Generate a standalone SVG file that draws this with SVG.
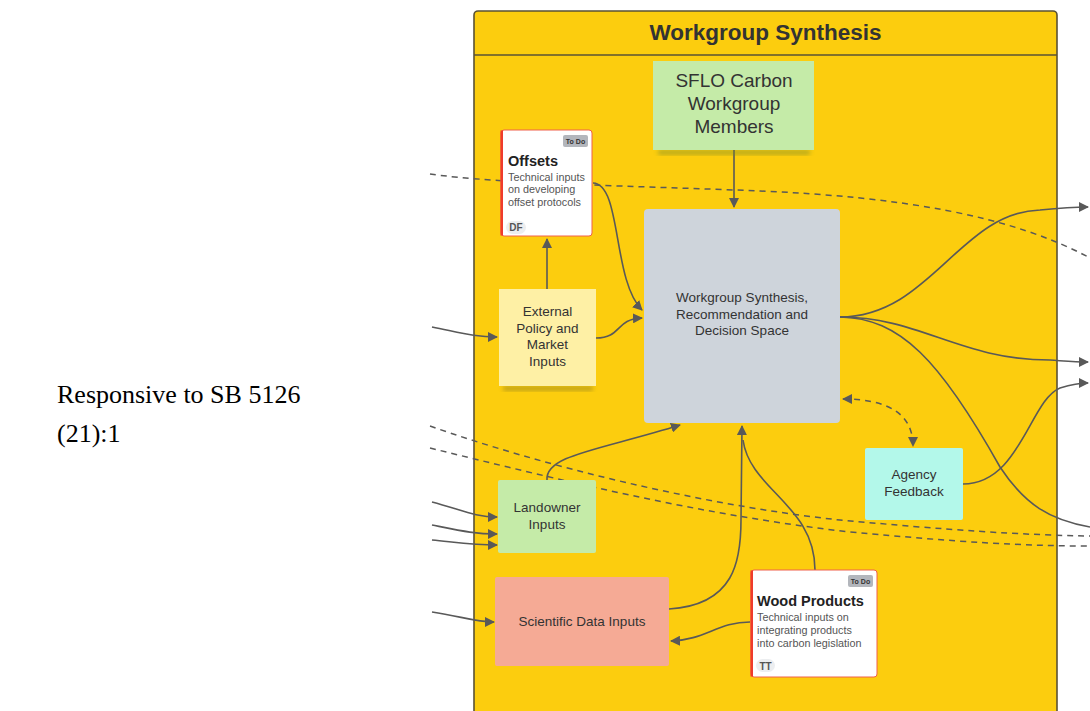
<svg xmlns="http://www.w3.org/2000/svg" width="1090" height="711" viewBox="0 0 1090 711">
<defs>
<marker id="ah" viewBox="0 0 10 10" refX="9" refY="5" markerWidth="10" markerHeight="10" markerUnits="userSpaceOnUse" orient="auto-start-reverse"><path d="M0,0 L10,5 L0,10 z" fill="#595959"/></marker>
<filter id="sh" x="-10%" y="-10%" width="120%" height="130%"><feGaussianBlur stdDeviation="2"/></filter>
</defs>
<style>
.t{font-family:"Liberation Sans",Arial,sans-serif;fill:#333;text-anchor:middle}
.c{fill:none;stroke:#595959;stroke-width:1.6}
.d{fill:none;stroke:#595959;stroke-width:1.5;stroke-dasharray:6 5}
.card{fill:#fff;stroke:#f0604a;stroke-width:1}
.badge{fill:#b3b6bc}
.bt{font-family:"Liberation Sans",Arial,sans-serif;font-size:7px;font-weight:bold;fill:#333;text-anchor:middle}
.ct{font-family:"Liberation Sans",Arial,sans-serif;font-size:10.8px;fill:#555}
.ch{font-family:"Liberation Sans",Arial,sans-serif;font-size:14.5px;font-weight:bold;fill:#222}
</style>
<rect width="1090" height="711" fill="#fff"/>
<text x="57" y="403" font-family="Liberation Serif,Times New Roman,serif" font-size="26" fill="#000">Responsive to SB 5126</text>
<text x="57" y="442" font-family="Liberation Serif,Times New Roman,serif" font-size="26" fill="#000">(21):1</text>

<g id="container">
<rect x="474" y="11" width="583" height="720" rx="4" fill="#fccd0e" stroke="#5a5234" stroke-width="1.6"/>
<line x1="474" y1="55" x2="1057" y2="55" stroke="#5a5234" stroke-width="1.6"/>
<text class="t" x="765.5" y="40" font-size="22.5" font-weight="bold">Workgroup Synthesis</text>
</g>

<g id="connectors">
<path class="d" d="M430,174 C500,184 640,186 760,191 C900,197 1010,215 1090,258"/>
<path class="d" d="M430,426 C540,465 700,505 840,520 C950,530 1020,535 1090,536"/>
<path class="d" d="M430,448 C560,480 700,515 850,532 C960,542 1020,546 1090,546"/>
<path class="c" d="M734,150 L734,207" marker-end="url(#ah)"/>
<path class="c" d="M547,289 L547,239" marker-end="url(#ah)"/>
<path class="c" d="M593,183 C622,184 612,280 642,310" marker-end="url(#ah)"/>
<path class="c" d="M596,338 C622,338 615,319 642,318" marker-end="url(#ah)"/>
<path class="c" d="M432,327 C462,333 475,337 497,337" marker-end="url(#ah)"/>
<path class="c" d="M432,502 C462,510 475,517 497,517" marker-end="url(#ah)"/>
<path class="c" d="M432,525 C462,531 475,534 497,534" marker-end="url(#ah)"/>
<path class="c" d="M432,540 C462,543 475,545 497,545" marker-end="url(#ah)"/>
<path class="c" d="M547,480 C545,455 600,450 680,425" marker-end="url(#ah)"/>
<path class="c" d="M669,609 C735,605 741,560 741,520 L742,426" marker-end="url(#ah)"/>
<path class="c" d="M815,570 C815,505 750,490 743,440"/>
<path class="c" d="M750,622 C718,622 705,640 671,641" marker-end="url(#ah)"/>
<path class="c" d="M432,612 C460,616 475,622 494,622" marker-end="url(#ah)"/>
<path class="c" d="M840,317 C930,317 960,212 1040,210 C1060,208 1075,207 1088,207" marker-end="url(#ah)"/>
<path class="c" d="M840,317 C920,317 960,360 1050,360 C1065,361 1075,362 1088,362" marker-end="url(#ah)"/>
<path class="c" d="M840,317 C900,318 940,360 1000,467 C1025,505 1050,520 1090,527"/>
<path class="c" d="M963,484 C1020,484 1030,400 1060,388 C1070,385 1078,383 1088,383" marker-end="url(#ah)"/>
<path class="d" d="M843,399 C885,399 913,412 913,446" marker-start="url(#ah)" marker-end="url(#ah)" stroke-dasharray="9 6"/>
</g>

<g id="sflo">
<rect x="658" y="150" width="152" height="5" fill="#7a8a2a" opacity="0.5" filter="url(#sh)"/>
<rect x="653" y="61" width="161" height="89" fill="#c5eba8"/>
<text class="t" font-size="19"><tspan x="734" y="87">SFLO Carbon</tspan><tspan x="734" y="110">Workgroup</tspan><tspan x="734" y="133">Members</tspan></text>
</g>

<g id="central">
<rect x="644" y="209" width="196" height="214" rx="4" fill="#ced4db"/>
<text class="t" font-size="13.5"><tspan x="742" y="302">Workgroup Synthesis,</tspan><tspan x="742" y="318.5">Recommendation and</tspan><tspan x="742" y="335">Decision Space</tspan></text>
</g>

<g id="offsets">
<rect x="501" y="130" width="91" height="106" rx="3" class="card"/>
<rect x="500.5" y="130.5" width="2.5" height="105" fill="#ef3b2c"/>
<rect x="563" y="135" width="25" height="12" rx="2" class="badge"/>
<text class="bt" x="575.5" y="143.5">To Do</text>
<text class="ch" x="508" y="165.5">Offsets</text>
<text class="ct"><tspan x="508" y="180.5">Technical inputs</tspan><tspan x="508" y="193">on developing</tspan><tspan x="508" y="205.5">offset protocols</tspan></text>
<rect x="506" y="221" width="20" height="13" rx="6.5" fill="#eceef0"/>
<text x="516" y="231" font-family="Liberation Sans,Arial,sans-serif" font-size="10" font-weight="bold" fill="#555" text-anchor="middle">DF</text>
</g>

<g id="external">
<rect x="503" y="386" width="90" height="5" fill="#8a7a20" opacity="0.5" filter="url(#sh)"/>
<rect x="499" y="289" width="97" height="97" fill="#fef0a5"/>
<text class="t" font-size="13.5"><tspan x="547.5" y="316">External</tspan><tspan x="547.5" y="332.5">Policy and</tspan><tspan x="547.5" y="349">Market</tspan><tspan x="547.5" y="365.5">Inputs</tspan></text>
</g>

<g id="landowner">
<rect x="498" y="480" width="98" height="73" rx="2" fill="#c5eba8"/>
<text class="t" font-size="13.5"><tspan x="547" y="512">Landowner</tspan><tspan x="547" y="528.5">Inputs</tspan></text>
</g>

<g id="agency">
<rect x="865" y="448" width="98" height="72" rx="2" fill="#b3f8ea"/>
<text class="t" font-size="13.5"><tspan x="914" y="479">Agency</tspan><tspan x="914" y="495.5">Feedback</tspan></text>
</g>

<g id="scientific">
<rect x="495" y="577" width="174" height="89" rx="2" fill="#f5aa95"/>
<text class="t" font-size="13.5" x="582" y="626">Scientific Data Inputs</text>
</g>

<g id="wood">
<rect x="751" y="570" width="126" height="107" rx="3" class="card"/>
<rect x="750.5" y="570.5" width="2.5" height="106" fill="#ef3b2c"/>
<rect x="848" y="575" width="25" height="12" rx="2" class="badge"/>
<text class="bt" x="860.5" y="583.5">To Do</text>
<text class="ch" x="757" y="606" font-size="14">Wood Products</text>
<text class="ct"><tspan x="757" y="621">Technical inputs on</tspan><tspan x="757" y="634">integrating products</tspan><tspan x="757" y="647">into carbon legislation</tspan></text>
<rect x="756" y="659" width="19" height="13" rx="6.5" fill="#eceef0"/>
<text x="765.5" y="669.5" font-family="Liberation Sans,Arial,sans-serif" font-size="10" font-weight="bold" fill="#555" text-anchor="middle">TT</text>
</g>
</svg>
